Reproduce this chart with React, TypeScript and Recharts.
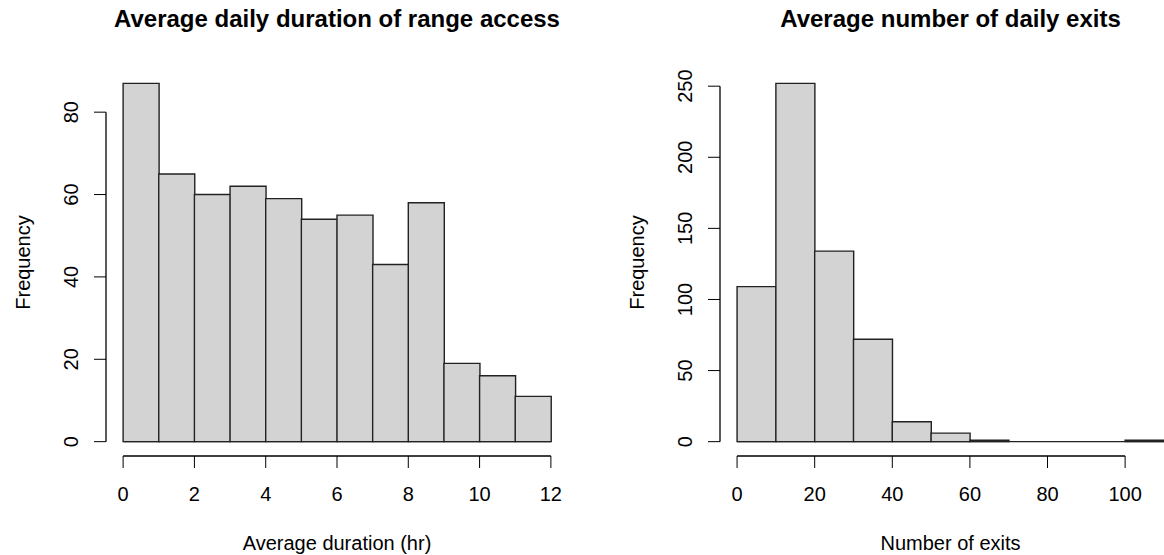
import React from 'react';
import { BarChart, Bar, XAxis, YAxis, ReferenceLine } from 'recharts';

// left panel: average daily duration of range access (hours, 1 hr bins)
const durationBinStarts = [0, 1, 2, 3, 4, 5, 6, 7, 8, 9, 10, 11];
const durationCounts = [87, 65, 60, 62, 59, 54, 55, 43, 58, 19, 16, 11];
const durationXTicks = [0, 2, 4, 6, 8, 10, 12];
const durationYTicks = [0, 20, 40, 60, 80];

// right panel: average number of daily exits (bins of 10)
const exitBinStarts = [0, 10, 20, 30, 40, 50, 60, 70, 80, 90, 100];
const exitCounts = [109, 252, 134, 72, 14, 6, 1, 0, 0, 0, 1];
const exitXTicks = [0, 20, 40, 60, 80, 100];
const exitYTicks = [0, 50, 100, 150, 200, 250];

const FONT = '"Liberation Sans", Arial, Helvetica, sans-serif';
const BAR_FILL = '#d3d3d3';
const INK = '#222';

// R pads the axis range by 4% on each side
function padRange(lo: number, hi: number): [number, number] {
  const d = (hi - lo) * 0.04;
  return [lo - d, hi + d];
}

function RotatedTick({ x, y, payload }: any) {
  return (
    <text
      x={x}
      y={y}
      transform={`rotate(-90, ${x}, ${y})`}
      textAnchor="middle"
      fontSize={20}
      fill="#000"
    >
      {payload.value}
    </text>
  );
}

interface HistProps {
  title: string;
  xLabel: string;
  binStarts: number[];
  binWidth: number;
  counts: number[];
  xTicks: number[];
  yTicks: number[];
  left: number;
  width: number;
  yAxisWidth: number;
  yTickSize: number;
  yTickMargin: number;
  freqOffset: number;
  xAxisHeight: number;
}

function Histogram(p: HistProps) {
  const data = p.binStarts.map((s, i) => ({ mid: s + p.binWidth / 2, count: p.counts[i] }));
  const xMin = p.binStarts[0];
  const xMax = p.binStarts[p.binStarts.length - 1] + p.binWidth;
  const xDomain = padRange(xMin, xMax);
  const yDomain = padRange(0, Math.max(...p.counts));
  const top = 69;
  const right = 14;
  const plotLeft = p.left + p.yAxisWidth;
  const plotWidth = p.width - p.yAxisWidth - right;

  return (
    <>
      <div
        style={{
          position: 'absolute',
          left: plotLeft,
          width: plotWidth,
          top: 7,
          textAlign: 'center',
          fontSize: 24,
          lineHeight: '24px',
          fontWeight: 'bold',
          whiteSpace: 'nowrap',
          color: '#000',
        }}
      >
        {p.title}
      </div>
      <div style={{ position: 'absolute', left: p.left, top: 0 }}>
        <BarChart
          width={p.width}
          height={555}
          data={data}
          margin={{ top, right, bottom: 0, left: 0 }}
          barCategoryGap={0}
          barGap={0}
        >
          <XAxis
            type="number"
            dataKey="mid"
            domain={xDomain}
            allowDataOverflow
            ticks={p.xTicks}
            interval={0}
            height={p.xAxisHeight}
            axisLine={false}
            stroke="#000"
            tickSize={12}
            tickMargin={19}
            tick={{ fill: '#000', fontSize: 20 }}
            label={{ value: p.xLabel, position: 'insideBottom', offset: 5.5, fill: '#000', fontSize: 20 }}
          />
          <YAxis
            type="number"
            domain={yDomain}
            allowDataOverflow
            ticks={p.yTicks}
            interval={0}
            width={p.yAxisWidth}
            axisLine={false}
            stroke="#000"
            tickSize={p.yTickSize}
            tickMargin={p.yTickMargin}
            tick={<RotatedTick />}
            label={{
              value: 'Frequency',
              angle: -90,
              position: 'insideLeft',
              offset: p.freqOffset,
              fill: '#000',
              fontSize: 20,
              style: { textAnchor: 'middle' },
            }}
          />
          <ReferenceLine
            segment={[{ x: xMin, y: 0 }, { x: xMax, y: 0 }]}
            stroke={INK}
            strokeWidth={1.3}
            ifOverflow="visible"
          />
          <Bar
            dataKey="count"
            fill={BAR_FILL}
            stroke={INK}
            strokeWidth={1.4}
            isAnimationActive={false}
          />
          <ReferenceLine
            segment={[
              { x: p.xTicks[0], y: yDomain[0] },
              { x: p.xTicks[p.xTicks.length - 1], y: yDomain[0] },
            ]}
            stroke="#000"
            strokeWidth={1.3}
            ifOverflow="visible"
          />
          <ReferenceLine
            segment={[
              { x: xDomain[0], y: p.yTicks[0] },
              { x: xDomain[0], y: p.yTicks[p.yTicks.length - 1] },
            ]}
            stroke="#000"
            strokeWidth={1.3}
            ifOverflow="visible"
          />
        </BarChart>
      </div>
    </>
  );
}

export default function App() {
  return (
    <div
      style={{
        position: 'absolute',
        left: 0,
        top: 0,
        width: 1164,
        height: 555,
        overflow: 'hidden',
        background: '#fff',
        fontFamily: FONT,
      }}
    >
      <Histogram
        title="Average daily duration of range access"
        xLabel="Average duration (hr)"
        binStarts={durationBinStarts}
        binWidth={1}
        counts={durationCounts}
        xTicks={durationXTicks}
        yTicks={durationYTicks}
        left={0}
        width={582}
        yAxisWidth={106}
        yTickSize={12}
        yTickMargin={16}
        freqOffset={23}
        xAxisHeight={99}
      />
      <Histogram
        title="Average number of daily exits"
        xLabel="Number of exits"
        binStarts={exitBinStarts}
        binWidth={10}
        counts={exitCounts}
        xTicks={exitXTicks}
        yTicks={exitYTicks}
        left={600}
        width={595}
        yAxisWidth={120}
        yTickSize={12}
        yTickMargin={16}
        freqOffset={37}
        xAxisHeight={99}
      />
    </div>
  );
}
